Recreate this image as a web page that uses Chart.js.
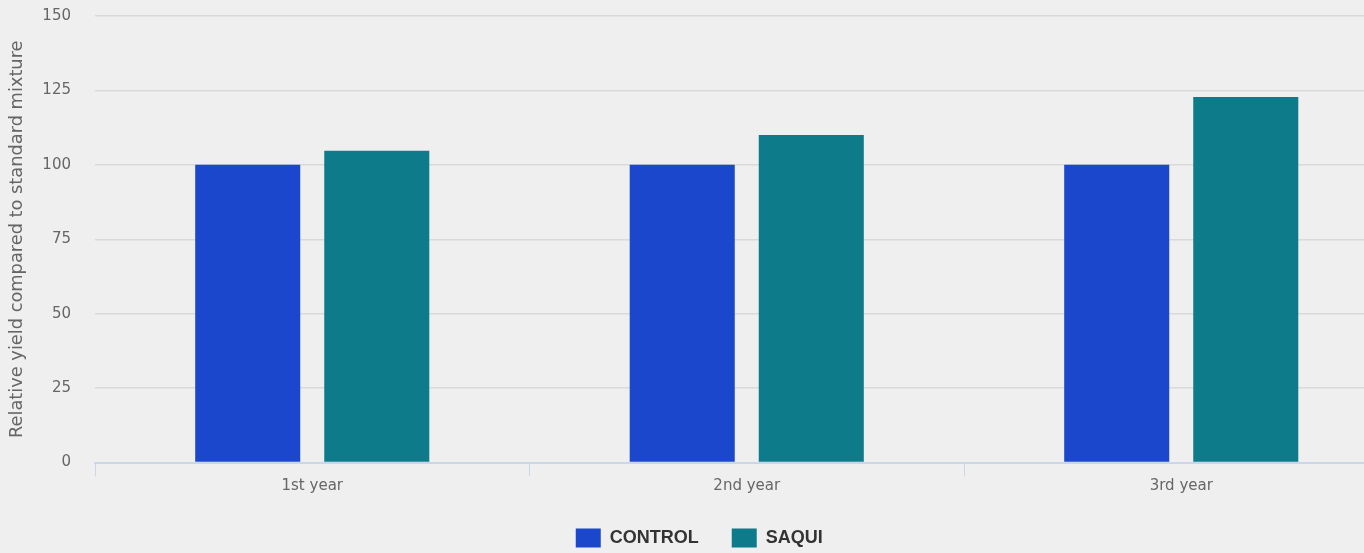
<!DOCTYPE html>
<html>
<head>
<meta charset="utf-8">
<script src="https://cdn.jsdelivr.net/npm/chart.js@4"></script>
<style>
html,body{margin:0;padding:0;background:#efefef;overflow:hidden;}
#wrap{width:1410px;height:553px;}
</style>
</head>
<body>
<div id="wrap"><canvas id="c" width="1410" height="553"></canvas></div>
<script>
const categories = ["1st year", "2nd year", "3rd year"];
const controlValues = [100, 100, 100];
const saquiValues = [104.7, 110, 122.8];
const yTicks = [0, 25, 50, 75, 100, 125, 150];

const FONT = "'DejaVu Sans', 'Lucida Grande', sans-serif";

new Chart(document.getElementById('c'), {
  type: 'bar',
  data: {
    labels: categories,
    datasets: [
      {label: 'CONTROL', data: controlValues, backgroundColor: '#1a47cc', categoryPercentage: 0.594, barPercentage: 0.814},
      {label: 'SAQUI', data: saquiValues, backgroundColor: '#0d7b89', categoryPercentage: 0.594, barPercentage: 0.814}
    ]
  },
  options: {
    responsive: false,
    animation: false,
    layout: {padding: {left: 0, right: 11.5, top: 16, bottom: -4.5}},
    plugins: {
      tooltip: {enabled: false},
      legend: {
        position: 'bottom',
        labels: {
          boxWidth: 25, boxHeight: 19, padding: 33,
          color: '#333',
          font: {family: "'Liberation Sans', Arial, sans-serif", size: 18, weight: 'bold'}
        }
      }
    },
    scales: {
      x: {
        afterFit: s => { s.height = 33; },
        grid: {display: true, drawOnChartArea: false, drawTicks: true, tickLength: 14, color: '#ccd6eb', offset: true},
        border: {display: true, color: '#ccd6eb', width: 2},
        ticks: {color: '#666', font: {family: FONT, size: 15}, padding: 1}
      },
      y: {
        min: 0, max: 150,
        afterBuildTicks: s => { s.ticks = yTicks.map(v => ({value: v})); },
        afterFit: s => { s.width = 95; },
        grid: {color: '#d9d9d9', lineWidth: 1.5, drawTicks: true, tickLength: 24, tickColor: 'rgba(0,0,0,0)'},
        border: {display: false},
        ticks: {color: '#666', font: {family: FONT, size: 15}, padding: 0},
        title: {display: true, text: 'Relative yield compared to standard mixture', color: '#666', font: {family: FONT, size: 17.8}, padding: {top: 7, bottom: 0}}
      }
    }
  }
});
</script>
</body>
</html>
